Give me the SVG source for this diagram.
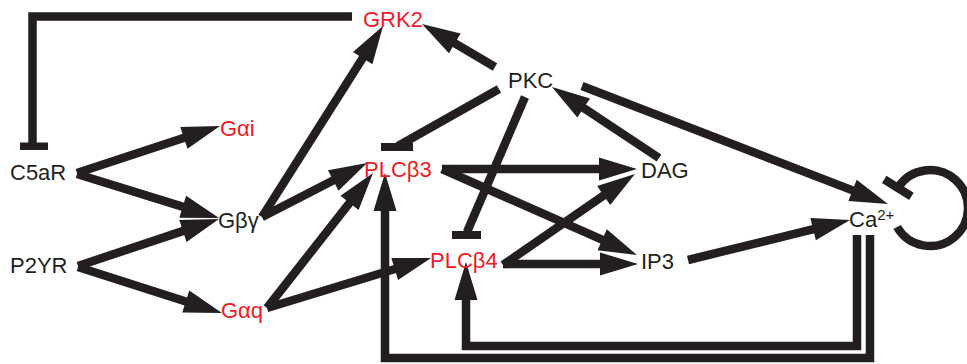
<svg xmlns="http://www.w3.org/2000/svg" width="967" height="364" viewBox="0 0 967 364">
<style>
text{font-family:"Liberation Sans",Arial,sans-serif;font-size:22px;fill:#231f20}
.red{fill:#ed1c24}
.sup{font-size:15px}
.c{fill:none;stroke:#231f20;stroke-width:8.5;stroke-linejoin:miter}
.a{marker-end:url(#ah)}
.bar{fill:#231f20}
</style>
<defs>
<marker id="ah" markerUnits="userSpaceOnUse" markerWidth="38" markerHeight="24" refX="14" refY="11.5" orient="auto" overflow="visible">
<path d="M0,0 L38,11.5 L0,23 z" fill="#231f20"/>
</marker>
</defs>
<rect width="967" height="364" fill="#fff"/>
<g id="connectors">
<path class="c" d="M352,16.5 H32.5 V146"/>
<rect class="bar" x="20" y="142.5" width="28" height="7.5"/>
<path class="c a" d="M77,173 L197.2,133.5"/>
<path class="c a" d="M77,174 L196.1,210.9"/>
<path class="c a" d="M78,266 L196.2,226.6"/>
<path class="c a" d="M78,267 L199.1,305.7"/>
<path class="c a" d="M262,217 L370.2,46.3"/>
<path class="c a" d="M262,217 L345.7,174"/>
<path class="c a" d="M267,308 L358.2,191.9"/>
<path class="c a" d="M267,308 L408.1,265"/>
<path class="c a" d="M495,67 L442.7,36.2"/>
<path class="c a" d="M659,158 L572,100.3"/>
<path class="c a" d="M582,86 L865.6,195.4"/>
<path class="c a" d="M442,169 L613,169"/>
<path class="c a" d="M442,169 L615,245.3"/>
<path class="c a" d="M503,265 L615.2,187.6"/>
<path class="c a" d="M503,264 L614,264"/>
<path class="c a" d="M688,260 L826.7,225.8"/>
<path class="c a" d="M870,235 V358 H385 V197"/>
<path class="c a" d="M857,235 V346 H466 V286"/>
<path class="c" d="M499,89 L398,146"/>
<rect class="bar" x="381" y="143" width="32" height="8"/>
<path class="c" d="M525,97 L467,232"/>
<rect class="bar" x="452" y="231" width="29" height="8"/>
<path class="c" d="M897.1,227 A38,38 0 1 0 897.8,187.9"/>
<path class="c" d="M884.2,179.4 L911.4,196.4"/>
</g>
<g id="GRK2"><text class="red" x="363" y="26.5">GRK2</text></g>
<g id="C5aR"><text x="10" y="180">C5aR</text></g>
<g id="Gai"><text class="red" x="220" y="136">Gαi</text></g>
<g id="PLCb3"><text class="red" x="364" y="176.5">PLCβ3</text></g>
<g id="PKC"><text x="508" y="88">PKC</text></g>
<g id="DAG"><text x="641" y="178">DAG</text></g>
<g id="Gbg"><text x="218" y="228">Gβγ</text></g>
<g id="P2YR"><text x="10" y="273">P2YR</text></g>
<g id="Gaq"><text class="red" x="221" y="318">Gαq</text></g>
<g id="PLCb4"><text class="red" x="430" y="268">PLCβ4</text></g>
<g id="IP3"><text x="641" y="269">IP3</text></g>
<g id="Ca"><text x="849" y="227">Ca<tspan class="sup" dy="-7">2+</tspan></text></g>
</svg>
